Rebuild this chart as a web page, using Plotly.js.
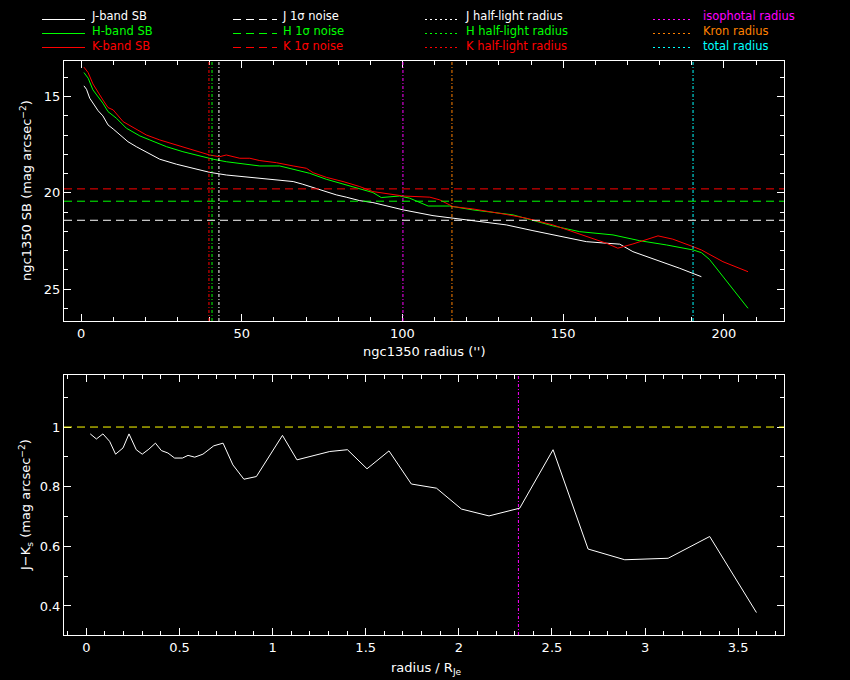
<!DOCTYPE html>
<html>
<head>
<meta charset="utf-8">
<script src="https://cdn.plot.ly/plotly-3.0.1.min.js"></script>
<style>
  html, body { margin: 0; padding: 0; background: #000; }
  #plot { width: 850px; height: 680px; }
</style>
</head>
<body>
<div id="plot"></div>
<script>
// surface brightness profiles (radius in arcsec, SB in mag arcsec^-2)
const jRadius = [0.9, 1.7, 2.7, 3.7, 5.3, 6.8, 8.4, 10, 12, 14.6, 17.2, 21.4, 24.5, 29.7, 34.8, 40, 45.2, 50.4, 55.6, 60.8, 66, 69, 74.2, 79.4, 82.5, 86.7, 90.8, 100.2, 109.5, 115.4, 124, 132.3, 140.6, 149.9, 157.2, 163.4, 167.6, 171.7, 180, 186.2, 193];
const jSB = [14.44, 14.62, 15.08, 15.34, 15.73, 16.0, 16.47, 16.68, 16.99, 17.34, 17.6, 17.99, 18.25, 18.51, 18.72, 18.93, 19.07, 19.15, 19.24, 19.33, 19.41, 19.55, 19.84, 20.1, 20.22, 20.4, 20.5, 20.88, 21.18, 21.31, 21.47, 21.66, 21.96, 22.27, 22.53, 22.61, 22.66, 23.05, 23.52, 23.91, 24.35];

const hRadius = [0.9, 2.2, 3.7, 5.3, 6.8, 8.4, 11, 14.1, 18.3, 21.4, 26.6, 31.7, 36.9, 41.1, 45.2, 50.4, 55.6, 61.8, 66, 71.1, 76.3, 81.5, 86.7, 90.8, 93.4, 96, 99.1, 102.2, 108, 114.7, 121.9, 134.4, 140.6, 146.8, 155.1, 165.5, 173.8, 182.1, 190.4, 193, 195.5, 207.5];
const hSB = [13.75, 14.04, 14.65, 15.0, 15.34, 15.78, 16.12, 16.64, 17.04, 17.25, 17.6, 17.86, 18.08, 18.25, 18.38, 18.49, 18.6, 18.6, 18.77, 18.98, 19.29, 19.53, 19.76, 19.98, 20.24, 20.21, 20.16, 20.27, 20.68, 20.68, 20.88, 21.14, 21.44, 21.71, 22.01, 22.18, 22.48, 22.7, 22.96, 23.1, 23.45, 25.99];

const kRadius = [0.9, 2.2, 3.7, 5.3, 6.8, 8.4, 10, 13.1, 16.2, 20.3, 24.5, 29.7, 34.8, 40, 43.1, 45.2, 49.4, 52.5, 55.6, 60.8, 66, 70.1, 72.2, 76.3, 81.5, 86.7, 90.8, 100.2, 108.5, 111.6, 115.7, 121.9, 131.3, 138.5, 146.8, 156.1, 163.4, 167, 171.7, 179.5, 184.1, 190.4, 193, 199.7, 207.5];
const kSB = [13.47, 13.75, 14.34, 14.79, 15.17, 15.57, 15.69, 16.3, 16.59, 16.99, 17.25, 17.51, 17.8, 18.03, 18.12, 18.03, 18.2, 18.2, 18.32, 18.43, 18.6, 18.72, 18.95, 19.19, 19.41, 19.67, 19.93, 20.16, 20.22, 20.36, 20.71, 20.83, 21.09, 21.31, 21.66, 22.18, 22.61, 22.87, 22.65, 22.23, 22.4, 22.79, 22.96, 23.57, 24.09];

// J-Ks colour profile (radius in units of R_Je)
const colorRadius = [0.021, 0.054, 0.089, 0.125, 0.157, 0.197, 0.229, 0.268, 0.300, 0.336, 0.371, 0.403, 0.438, 0.474, 0.516, 0.546, 0.582, 0.626, 0.684, 0.734, 0.787, 0.846, 0.913, 1.053, 1.131, 1.217, 1.307, 1.402, 1.507, 1.625, 1.745, 1.880, 2.014, 2.162, 2.327, 2.506, 2.694, 2.891, 2.971, 3.124, 3.347, 3.598];
const jkColor = [0.977, 0.960, 0.977, 0.952, 0.909, 0.930, 0.977, 0.924, 0.909, 0.926, 0.946, 0.921, 0.913, 0.896, 0.896, 0.905, 0.899, 0.909, 0.937, 0.946, 0.873, 0.825, 0.834, 0.972, 0.890, 0.904, 0.918, 0.924, 0.860, 0.920, 0.809, 0.795, 0.725, 0.702, 0.728, 0.924, 0.591, 0.555, 0.557, 0.560, 0.633, 0.378];

// reference levels and radii
const noiseLevels = [21.42, 20.43, 19.79];          // J, H, K 1 sigma noise
const halfLightRadii = [42.9, 40.75, 39.8];         // J, H, K half-light radius
const apertureRadii = [100.15, 115.4, 190.4];       // isophotal, Kron, total
const isophotalRadiusRe = 2.32;
const colorRefLevel = 1;

const bandColors = ['#ffffff', '#00ff00', '#ff0000'];
const apertureColors = ['#ff00ff', '#ff8000', '#00ffff'];

const legendSB = ['J-band SB', 'H-band SB', 'K-band SB'];
const legendNoise = ['J 1σ noise', 'H 1σ noise', 'K 1σ noise'];
const legendHalf = ['J half-light radius', 'H half-light radius', 'K half-light radius'];
const legendAper = ['isophotal radius', 'Kron radius', 'total radius'];

const FONT = 'DejaVu Sans, Liberation Sans, sans-serif';
const W = 850, H = 680;
const M = { l: 64, r: 66, t: 61, b: 45 };

// pixel -> paper helpers for the legend block
const px = x => (x - M.l) / (W - M.l - M.r);
const py = y => (H - M.b - y) / (H - M.t - M.b);

const dotted = '3px,2px,1px,2px';

function curve(x, y, color, xa, ya) {
    return { x: x, y: y, mode: 'lines', line: { color: color, width: 1 },
             xaxis: xa, yaxis: ya, hoverinfo: 'none' };
}

const data = [
    curve(jRadius, jSB, bandColors[0], 'x', 'y'),
    curve(hRadius, hSB, bandColors[1], 'x', 'y'),
    curve(kRadius, kSB, bandColors[2], 'x', 'y'),
    curve(colorRadius, jkColor, '#ffffff', 'x2', 'y2')
];

const shapes = [];
noiseLevels.forEach((v, i) => shapes.push({
    type: 'line', xref: 'x domain', yref: 'y', x0: 0, x1: 1, y0: v, y1: v,
    line: { color: bandColors[i], width: 1, dash: '8px,5px' }
}));
halfLightRadii.forEach((v, i) => shapes.push({
    type: 'line', xref: 'x', yref: 'y domain', x0: v, x1: v, y0: 0, y1: 1,
    line: { color: bandColors[i], width: 1, dash: dotted }
}));
apertureRadii.forEach((v, i) => shapes.push({
    type: 'line', xref: 'x', yref: 'y domain', x0: v, x1: v, y0: 0, y1: 1,
    line: { color: apertureColors[i], width: 1, dash: dotted }
}));
shapes.push({
    type: 'line', xref: 'x2 domain', yref: 'y2', x0: 0, x1: 1, y0: colorRefLevel, y1: colorRefLevel,
    line: { color: '#ffff00', width: 1, dash: '8px,5px' }
});
shapes.push({
    type: 'line', xref: 'x2', yref: 'y2 domain', x0: isophotalRadiusRe, x1: isophotalRadiusRe, y0: 0, y1: 1,
    line: { color: apertureColors[0], width: 1, dash: dotted }
});

// legend block (four columns, three rows); one text block per column
const annotations = [];
const rowLine = [19.5, 33.5, 47.5];
const columns = [
    { labels: legendSB, colors: bandColors, x0: 42, x1: 85, tx: 90, dash: 'solid' },
    { labels: legendNoise, colors: bandColors, x0: 233, x1: 277, tx: 281, dash: '8px,5px' },
    { labels: legendHalf, colors: bandColors, x0: 425, x1: 457, tx: 464, dash: '2px,3px' },
    { labels: legendAper, colors: apertureColors, x0: 653, x1: 693, tx: 702, dash: '2px,3px' }
];
columns.forEach(col => {
    col.labels.forEach((lab, i) => {
        shapes.push({
            type: 'line', xref: 'paper', yref: 'paper',
            x0: px(col.x0), x1: px(col.x1), y0: py(rowLine[i]), y1: py(rowLine[i]),
            line: { color: col.colors[i], width: 1, dash: col.dash }
        });
    });
    annotations.push({
        xref: 'paper', yref: 'paper', x: px(col.tx), y: py(30.5),
        xanchor: 'left', yanchor: 'middle', align: 'left', showarrow: false, borderpad: 0,
        text: col.labels.map((lab, i) => '<span style="color:' + col.colors[i] + '">' + lab + '</span>').join('<br>'),
        font: { family: FONT, size: 11.5, color: '#ffffff' }
    });
});

// axis titles
const titleFont = { family: FONT, size: 13, color: '#ffffff' };
annotations.push(
    { xref: 'paper', yref: 'paper', x: px(26), y: py(191), xanchor: 'center', yanchor: 'middle',
      textangle: -90, showarrow: false, text: 'ngc1350 SB (mag arcsec<sup>−2</sup>)', font: titleFont },
    { xref: 'paper', yref: 'paper', x: px(424), y: py(351), xanchor: 'center', yanchor: 'middle',
      showarrow: false, text: "ngc1350 radius ('')", font: titleFont },
    { xref: 'paper', yref: 'paper', x: px(26), y: py(505), xanchor: 'center', yanchor: 'middle',
      textangle: -90, showarrow: false, text: 'J−K<sub>s</sub> (mag arcsec<sup>−2</sup>)', font: titleFont },
    { xref: 'paper', yref: 'paper', x: px(426), y: py(668), xanchor: 'center', yanchor: 'middle',
      showarrow: false, text: 'radius / R<sub>Je</sub>', font: titleFont }
);

function axis(extra) {
    return Object.assign({
        showline: true, linecolor: '#ffffff', linewidth: 1, mirror: 'allticks',
        ticks: 'inside', ticklen: 7, tickwidth: 1, tickcolor: '#ffffff',
        showgrid: false, zeroline: false, tick0: 0,
        tickfont: { family: FONT, size: 13, color: '#ffffff' }
    }, extra);
}

const layout = {
    width: W, height: H,
    paper_bgcolor: '#000000', plot_bgcolor: '#000000',
    margin: { l: M.l, r: M.r, t: M.t, b: M.b, pad: 0 },
    showlegend: false,
    xaxis: axis({ domain: [0, 1], anchor: 'y', range: [-5.3, 218.7], dtick: 50,
                  minor: { dtick: 10, ticklen: 4, tickcolor: '#ffffff', ticks: 'inside' } }),
    yaxis: axis({ domain: [py(321), 1], anchor: 'x', range: [26.65, 13.15], dtick: 5,
                  minor: { dtick: 1, ticklen: 4, tickcolor: '#ffffff', ticks: 'inside' } }),
    xaxis2: axis({ domain: [0, 1], anchor: 'y2', range: [-0.12, 3.746], dtick: 0.5,
                   minor: { dtick: 0.1, ticklen: 4, tickcolor: '#ffffff', ticks: 'inside' } }),
    yaxis2: axis({ domain: [0, py(375)], anchor: 'x2', range: [0.3027, 1.1745], dtick: 0.2,
                   minor: { dtick: 0.1, ticklen: 4, tickcolor: '#ffffff', ticks: 'inside' } }),
    shapes: shapes,
    annotations: annotations
};

Plotly.newPlot('plot', data, layout, { displayModeBar: false, staticPlot: true });
</script>
</body>
</html>
